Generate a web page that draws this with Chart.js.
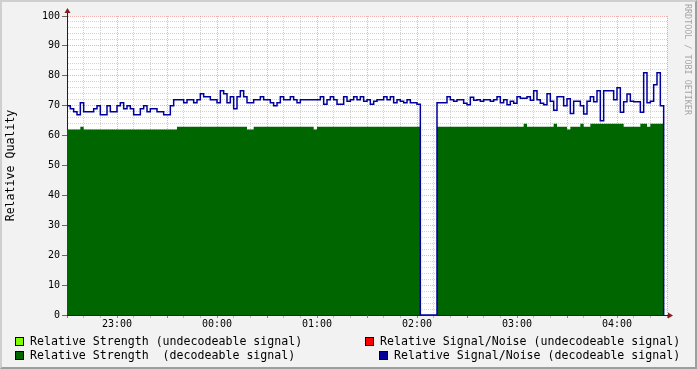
<!DOCTYPE html>
<html>
<head>
<meta charset="utf-8">
<script src="https://cdn.jsdelivr.net/npm/chart.js@4/dist/chart.umd.min.js"></script>
<style>
html,body{margin:0;padding:0;background:#f2f2f2;}
#wrap{position:relative;width:697px;height:369px;overflow:hidden;background:#f2f2f2;font-family:"DejaVu Sans Mono",monospace;}
#c{position:absolute;left:0;top:0;}
#frame{position:absolute;left:0;top:0;width:697px;height:369px;box-sizing:border-box;border-top:2px solid #cfcfcf;border-left:2px solid #cfcfcf;border-right:2px solid #9e9e9e;border-bottom:2px solid #9e9e9e;pointer-events:none;}
.leg{position:absolute;font-size:11.6px;line-height:14px;white-space:pre;color:#000;}
.sw{position:absolute;width:7px;height:7px;border:1px solid #000;}
#wm{position:absolute;left:683px;top:4px;writing-mode:vertical-rl;font-size:8.4px;line-height:10px;color:#a6a6a6;white-space:pre;}
</style>
</head>
<body>
<div id="wrap">
  <canvas id="c" width="697" height="369"></canvas>
  <div id="wm">RRDTOOL / TOBI OETIKER</div>
  <div class="sw" style="left:15px;top:337px;background:#80ff00"></div>
  <div class="leg" style="left:30px;top:334px">Relative Strength (undecodeable signal)</div>
  <div class="sw" style="left:15px;top:351px;background:#006600"></div>
  <div class="leg" style="left:30px;top:348px">Relative Strength  (decodeable signal)</div>
  <div class="sw" style="left:365px;top:337px;background:#ff0000"></div>
  <div class="leg" style="left:380px;top:334px">Relative Signal/Noise (undecodeable signal)</div>
  <div class="sw" style="left:379px;top:351px;background:#000099"></div>
  <div class="leg" style="left:394px;top:348px">Relative Signal/Noise (decodeable signal)</div>
  <div id="frame"></div>
</div>
<script>
// ---- time axis: samples every 2 minutes, minute 0 = 22:30 ----
const sampleStepMinutes = 2;
const axisMinMinutes = 0;     // 22:30
const axisMaxMinutes = 360;   // 04:30
const hourLabelMinutes = [30, 90, 150, 210, 270, 330];
const hourLabels = ['23:00', '00:00', '01:00', '02:00', '03:00', '04:00'];
const yTickLabels = ['0','10','20','30','40','50','60','70','80','90','100'];

// ---- Relative Signal/Noise (decodeable signal) ----
const snrDecodeable = [
  // 22:30 - 23:34
  70,69,68,67,71,68,68,68,69,70,67,67,70,68,68,70,71,69,70,69,67,67,69,70,68,69,69,68,68,67,67,70,72,
  // 23:36 - 00:48
  72,72,71,72,72,71,72,74,73,73,72,72,71,75,74,71,73,69,73,75,73,71,71,72,72,73,72,72,71,70,71,73,72,72,73,72,71,
  // 00:50 - 02:00
  72,72,72,72,72,72,73,70.5,72,73,72,70.5,70.5,73,71.5,72,73,72,73,71.5,72,70.5,71.5,72,72,73,72,73,71,72,71.5,71,72,71,71,70.5,
  // 02:02 - 02:10 (no data)
  0,0,0,0,0,
  // 02:12 - 03:22
  71,71,71,73,72,71.5,72,72,70.8,70.3,72.8,71.8,72,71.5,72,72,71.5,72,73,71,72,70.3,71.5,70.8,73,72.5,72.5,73,71.8,75,72,70.8,70.3,74,71.5,68.5,
  // 03:24 - 04:28
  73,73,70,72.3,67.4,71.5,71.5,70,67.2,71.5,73,71.3,75,65,75,75,75,72,76,67.8,71.3,73.9,71.5,71.3,71.3,67.8,81,71,71.5,77,81,70,0
];

// ---- Relative Strength (decodeable signal) ----
const strengthDecodeable = [
  62,62,62,62,63,62,62,62,62,62,62,62,62,62,62,62,62,62,62,62,62,62,62,62,62,62,62,62,62,62,62,62,62,
  63,63,63,63,63,63,63,63,63,63,63,63,63,63,63,63,63,63,63,63,63,62,62,63,63,63,63,63,63,63,63,63,63,63,63,63,63,
  63,63,63,63,62,63,63,63,63,63,63,63,63,63,63,63,63,63,63,63,63,63,63,63,63,63,63,63,63,63,63,63,63,63,63,63,
  0,0,0,0,0,
  63,63,63,63,63,63,63,63,63,63,63,63,63,63,63,63,63,63,63,63,63,63,63,63,63,63,64,63,63,63,63,63,63,63,63,64,
  63,63,63,62,63,63,63,64,63,63,64,64,64,64,64,64,64,64,64,64,63,63,63,63,63,64,64,63,64,64,64,64,0
];

// ---- undecodeable series (no values in this period) ----
const strengthUndecodeable = strengthDecodeable.map(() => null);
const snrUndecodeable = snrDecodeable.map(() => null);

const sampleMinutes = snrDecodeable.map((_, i) => axisMinMinutes + i * sampleStepMinutes);
const toPoints = arr => arr.map((v, i) => ({ x: sampleMinutes[i], y: v }));

const GRID = 'rgba(143,143,143,0.4)';
const MGRID = 'rgba(222,79,79,0.45)';
const AXIS = '#1f1f1f';
const ARROW = '#801f1f';
const FONT = 'DejaVu Sans Mono';
const STEP = 'before'; // value holds until the next sample

const bgPlugin = {
  id: 'bg',
  beforeDraw(chart) {
    const { ctx, chartArea: a } = chart;
    ctx.save();
    ctx.fillStyle = '#ffffff';
    ctx.fillRect(a.left, a.top, a.right - a.left, a.bottom - a.top);
    ctx.restore();
  }
};

const arrowPlugin = {
  id: 'arrows',
  afterDraw(chart) {
    const { ctx, chartArea: a } = chart;
    const lx = Math.round(a.left) + 0.5;
    const by = Math.round(a.bottom) + 0.5;
    ctx.save();
    ctx.strokeStyle = AXIS;
    ctx.lineWidth = 1;
    ctx.beginPath();
    ctx.moveTo(lx, a.top); ctx.lineTo(lx, a.top - 3);
    ctx.moveTo(a.right, by); ctx.lineTo(a.right + 2, by);
    ctx.stroke();
    ctx.fillStyle = ARROW;
    ctx.beginPath();
    ctx.moveTo(lx - 3, a.top - 3); ctx.lineTo(lx + 3, a.top - 3); ctx.lineTo(lx, a.top - 8); ctx.closePath();
    ctx.fill();
    ctx.beginPath();
    ctx.moveTo(a.right + 1, by - 3); ctx.lineTo(a.right + 1, by + 3); ctx.lineTo(a.right + 6, by); ctx.closePath();
    ctx.fill();
    ctx.restore();
  }
};

new Chart(document.getElementById('c').getContext('2d'), {
  type: 'line',
  data: {
    datasets: [
      { label: 'Relative Signal/Noise (decodeable signal)', data: toPoints(snrDecodeable), stepped: STEP,
        borderColor: '#00009c', borderWidth: 1.5, pointRadius: 0, fill: false, order: 0 },
      { label: 'Relative Signal/Noise (undecodeable signal)', data: toPoints(snrUndecodeable), stepped: STEP,
        borderColor: '#ff0000', borderWidth: 1.5, pointRadius: 0, fill: false, order: 1 },
      { label: 'Relative Strength  (decodeable signal)', data: toPoints(strengthDecodeable), stepped: STEP,
        borderWidth: 0, borderColor: 'rgba(0,0,0,0)', backgroundColor: '#006600', pointRadius: 0, fill: 'origin', order: 2 },
      { label: 'Relative Strength (undecodeable signal)', data: toPoints(strengthUndecodeable), stepped: STEP,
        borderWidth: 0, borderColor: 'rgba(0,0,0,0)', backgroundColor: '#80ff00', pointRadius: 0, fill: 'origin', order: 3 }
    ]
  },
  options: {
    responsive: false,
    animation: false,
    events: [],
    layout: { padding: { left: 0, right: 30, top: 16, bottom: 0 } },
    plugins: { legend: { display: false }, tooltip: { enabled: false } },
    scales: {
      x: {
        type: 'linear', min: axisMinMinutes, max: axisMaxMinutes, z: 1,
        ticks: {
          stepSize: 10, autoSkip: false, maxRotation: 0, minRotation: 0, padding: 0,
          color: '#000', font: { family: FONT, size: 10 },
          callback: v => { const k = hourLabelMinutes.indexOf(v); return k >= 0 ? hourLabels[k] : ''; }
        },
        grid: {
          color: c => (c.tick && c.tick.value % 30 === 0) ? MGRID : GRID,
          tickColor: c => (c.tick && c.tick.value % 30 === 0) ? 'rgba(222,79,79,0.9)' : 'rgba(143,143,143,0.6)',
          tickLength: 3, lineWidth: 1
        },
        border: { display: true, color: AXIS, width: 1, dash: [1, 1] },
        afterFit: s => { s.height = 54; s.paddingLeft = 0; s.paddingRight = 0; }
      },
      y: {
        min: 0, max: 100, z: 1,
        ticks: {
          stepSize: 2, autoSkip: false, padding: 2,
          color: '#000', font: { family: FONT, size: 10 },
          callback: v => { const s = String(v); return yTickLabels.includes(s) ? s : ''; }
        },
        grid: {
          color: c => (c.tick && c.tick.value % 10 === 0) ? MGRID : GRID,
          tickColor: c => (c.tick && c.tick.value % 10 === 0) ? 'rgba(90,90,90,0.9)' : 'rgba(0,0,0,0)',
          tickLength: 5, lineWidth: 1
        },
        border: { display: true, color: AXIS, width: 1, dash: [1, 1] },
        title: { display: true, text: 'Relative Quality', color: '#000',
                 font: { family: FONT, size: 11.6 }, padding: { top: 4, bottom: 0 } },
        afterFit: s => { s.width = 67; s.paddingTop = 0; s.paddingBottom = 0; }
      }
    }
  },
  plugins: [bgPlugin, arrowPlugin]
});
</script>
</body>
</html>
